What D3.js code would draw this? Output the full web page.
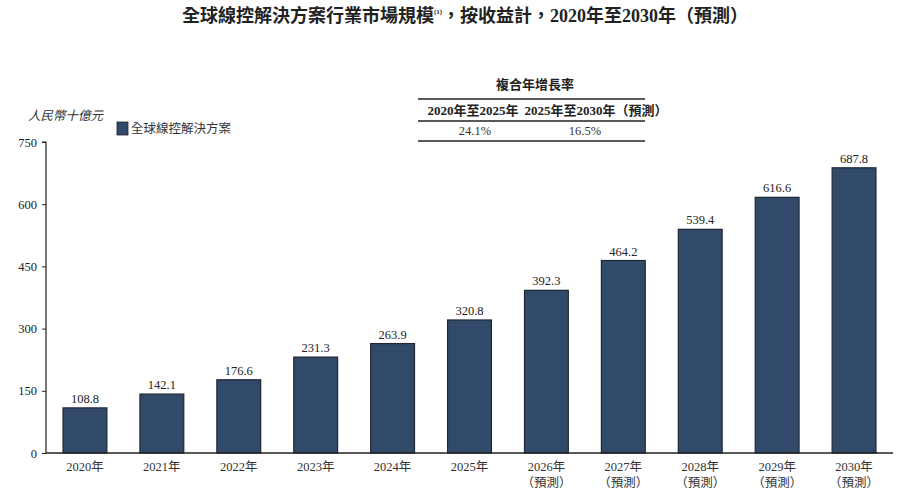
<!DOCTYPE html>
<html>
<head>
<meta charset="utf-8">
<script src="https://cdn.jsdelivr.net/npm/d3@7"></script>
<style>
  body { margin: 0; background: #fff; }
  svg { display: block; font-family: "Liberation Serif", "Noto Sans CJK TC", serif; }
</style>
</head>
<body>
<svg width="900" height="496"></svg>
<script>
const years = ["2020年", "2021年", "2022年", "2023年", "2024年", "2025年",
               "2026年", "2027年", "2028年", "2029年", "2030年"];
const forecast = [false, false, false, false, false, false, true, true, true, true, true];
const values = [108.8, 142.1, 176.6, 231.3, 263.9, 320.8, 392.3, 464.2, 539.4, 616.6, 687.8];
const yTicks = [0, 150, 300, 450, 600, 750];
const cagrHeaders = ["2020年至2025年", "2025年至2030年（預測）"];
const cagrValues = ["24.1%", "16.5%"];

const svg = d3.select('svg');
const barColor = '#314a6a';

// title
const title = svg.append('text')
  .attr('x', 465).attr('y', 22)
  .attr('text-anchor', 'middle')
  .attr('font-size', 18).attr('font-weight', 'bold')
  .attr('fill', '#222');
title.append('tspan').text('全球線控解決方案行業市場規模');
title.append('tspan').attr('font-size', 7).attr('dy', -8).text('(1)');
title.append('tspan').attr('dy', 8).text('，按收益計，2020年至2030年（預測）');

const margin = { left: 46, right: 893, top: 142, bottom: 453 };

const x = d3.scaleBand()
  .domain(years)
  .range([46.5, 892.5])
  .paddingInner(0.43)
  .paddingOuter(0.215);

const y = d3.scaleLinear()
  .domain([0, 750])
  .range([margin.bottom, margin.top]);

// y axis
const yAxisG = svg.append('g')
  .attr('transform', `translate(${margin.left},0)`)
  .call(d3.axisLeft(y).tickValues(yTicks).tickSize(4).tickPadding(5));
yAxisG.select('.domain').attr('stroke', '#222').attr('stroke-width', 1.2).attr('d', `M-4,${y(750)}H0V${y(0)}`);
yAxisG.selectAll('.tick line').attr('stroke', '#222');
yAxisG.selectAll('.tick text')
  .attr('font-size', 12.5).attr('fill', '#222')
  .attr('font-family', '"Liberation Serif", serif');

// unit label
svg.append('text')
  .attr('x', 28).attr('y', 120)
  .attr('font-size', 12.5).attr('font-style', 'italic')
  .attr('fill', '#333')
  .text('人民幣十億元');

// legend
svg.append('rect')
  .attr('x', 117).attr('y', 122).attr('width', 11).attr('height', 13)
  .attr('fill', barColor).attr('stroke', '#222').attr('stroke-width', 0.8);
svg.append('text')
  .attr('x', 131).attr('y', 133)
  .attr('font-size', 12.5).attr('fill', '#333')
  .text('全球線控解決方案');

// CAGR table
const tbl = svg.append('g');
tbl.append('text')
  .attr('x', 535).attr('y', 89)
  .attr('text-anchor', 'middle').attr('font-size', 13).attr('font-weight', 'bold')
  .attr('fill', '#222')
  .text('複合年增長率');
[99, 121, 141].forEach(ly => {
  tbl.append('line')
    .attr('x1', 418).attr('x2', 645).attr('y1', ly).attr('y2', ly)
    .attr('stroke', '#222').attr('stroke-width', 1.6);
});
const colX = [473, 596];
cagrHeaders.forEach((h, i) => {
  tbl.append('text')
    .attr('x', colX[i]).attr('y', 115)
    .attr('text-anchor', 'middle').attr('font-size', 13).attr('font-weight', 'bold')
    .attr('fill', '#222')
    .text(h);
});
const valX = [475, 585];
cagrValues.forEach((v, i) => {
  tbl.append('text')
    .attr('x', valX[i]).attr('y', 135)
    .attr('text-anchor', 'middle').attr('font-size', 12.5)
    .attr('fill', '#333')
    .text(v);
});

// bars
svg.append('g').selectAll('rect').data(values).enter().append('rect')
  .attr('x', (d, i) => x(years[i]))
  .attr('y', d => y(d))
  .attr('width', x.bandwidth())
  .attr('height', d => y(0) - y(d))
  .attr('fill', barColor)
  .attr('stroke', '#1e2733')
  .attr('stroke-width', 1.2);

// value labels
svg.append('g').selectAll('text').data(values).enter().append('text')
  .attr('x', (d, i) => x(years[i]) + x.bandwidth() / 2)
  .attr('y', d => y(d) - 5)
  .attr('text-anchor', 'middle')
  .attr('font-size', 12.5).attr('fill', '#222')
  .text(d => d.toFixed(1));

// x axis line
svg.append('line')
  .attr('x1', margin.left).attr('x2', margin.right)
  .attr('y1', y(0)).attr('y2', y(0))
  .attr('stroke', '#222').attr('stroke-width', 1.4);

// x labels
const xl = svg.append('g').selectAll('g').data(years).enter().append('g')
  .attr('transform', d => `translate(${x(d) + x.bandwidth() / 2},0)`);
xl.append('text')
  .attr('y', 471).attr('text-anchor', 'middle')
  .attr('font-size', 12.5).attr('fill', '#333')
  .text(d => d);
xl.filter((d, i) => forecast[i]).append('text')
  .attr('y', 487).attr('text-anchor', 'middle')
  .attr('font-size', 12.5).attr('fill', '#333')
  .text('（預測）');
</script>
</body>
</html>
